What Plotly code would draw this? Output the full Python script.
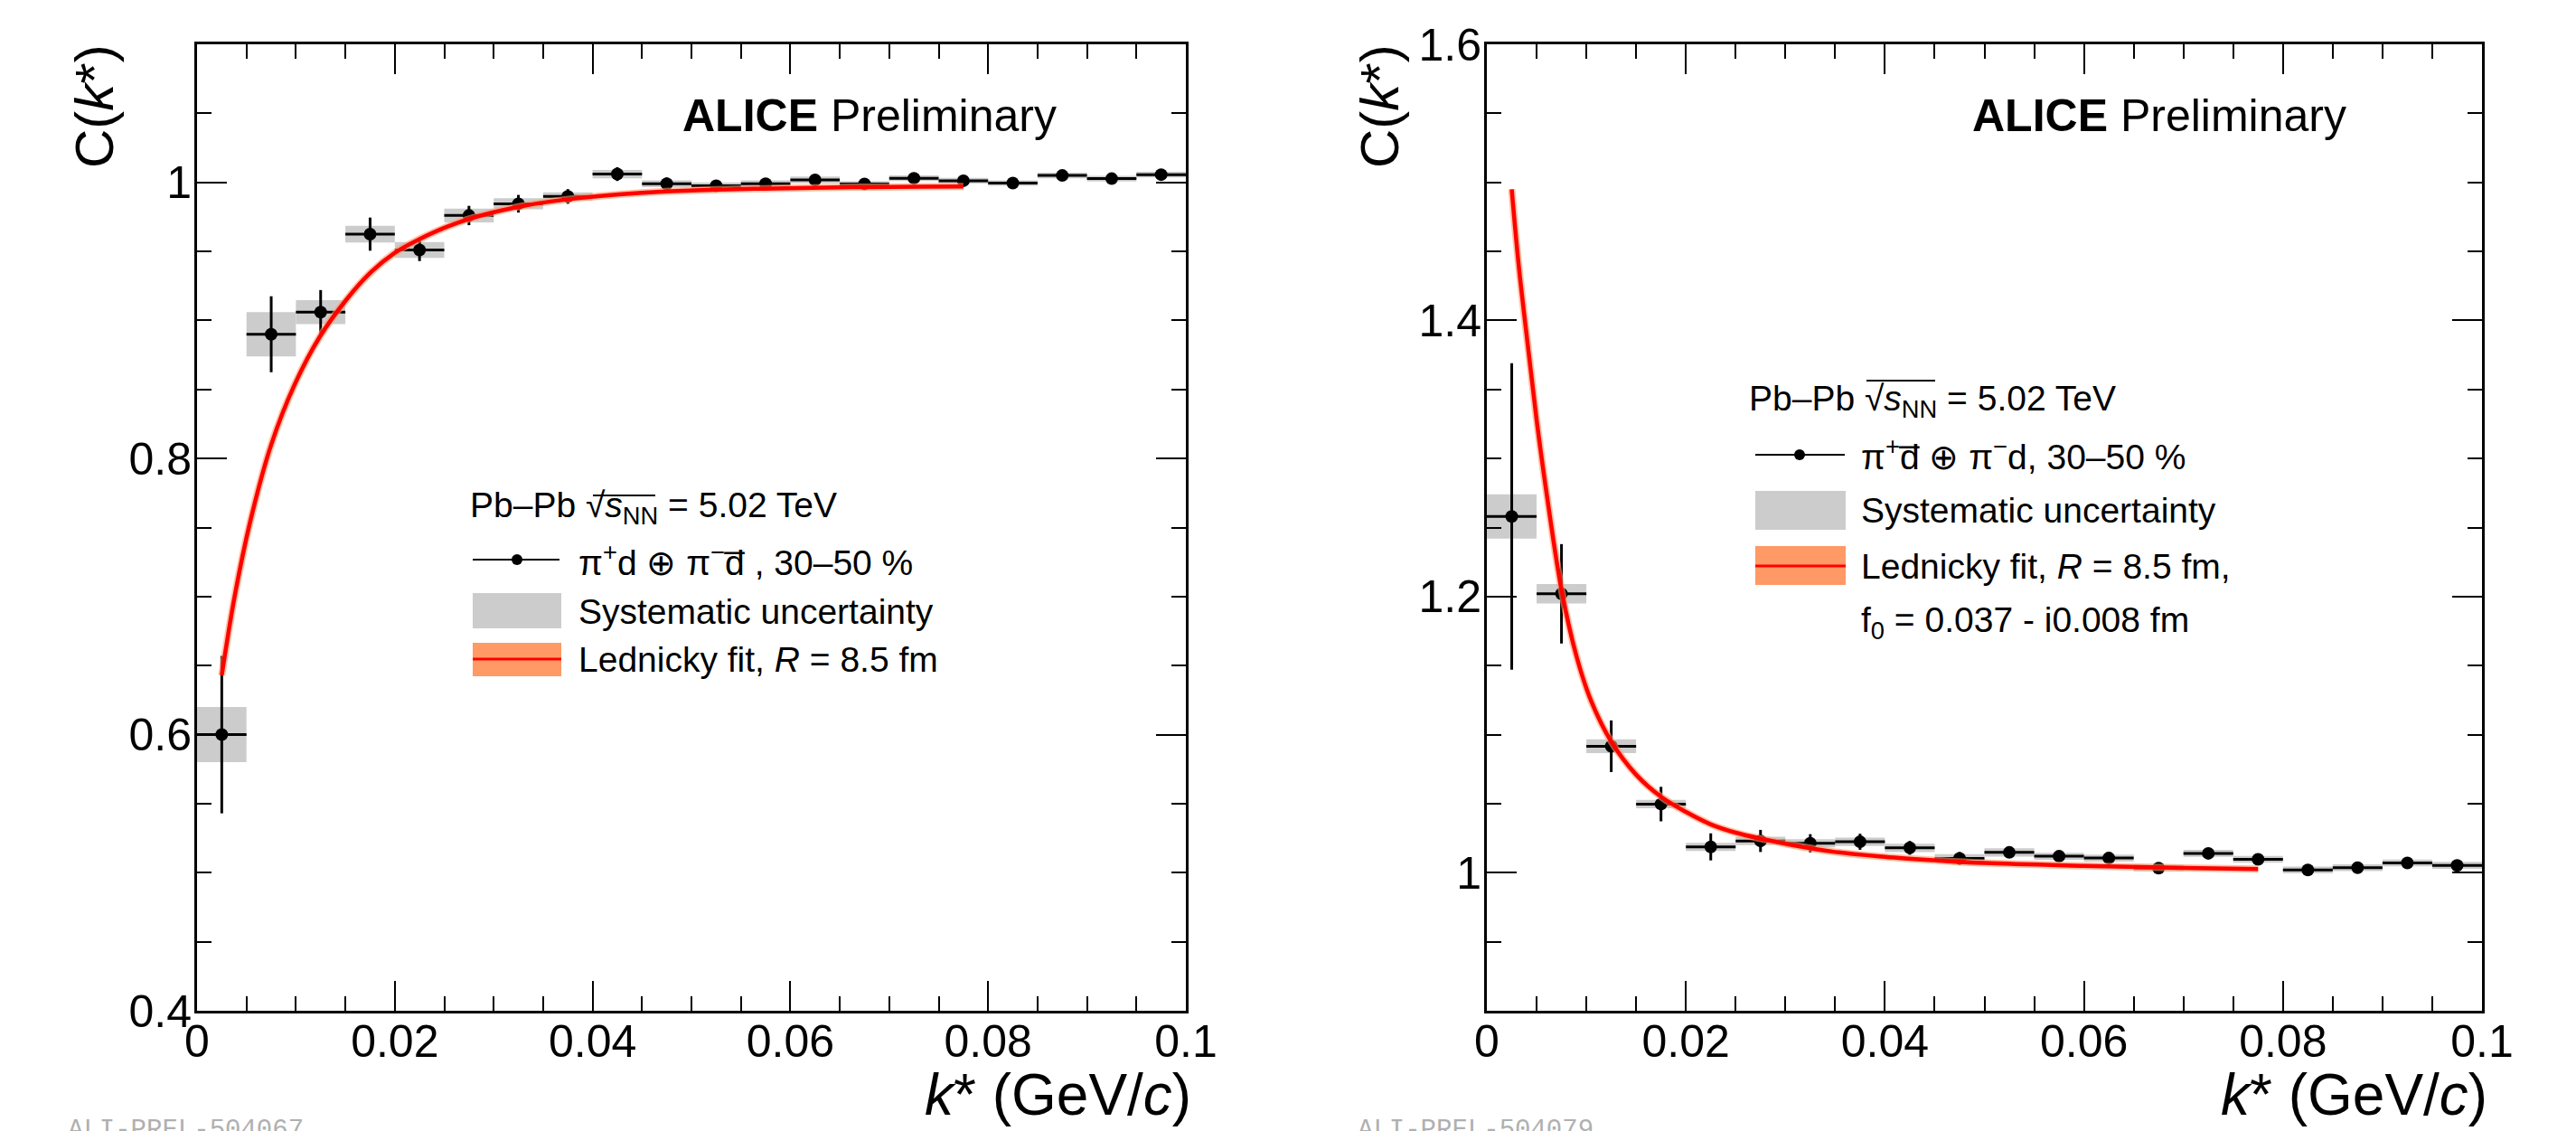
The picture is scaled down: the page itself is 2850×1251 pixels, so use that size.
import plotly.graph_objects as go

# page body has an 8px margin: the figure is sized to fill the rest of the window
OFF = 8
W, H = 2850 - OFF, 1251 - OFF

# ---------------- data ----------------
kstar = [0.0025, 0.0075, 0.0125, 0.0175, 0.0225, 0.0275, 0.0325, 0.0375, 0.0425, 0.0475,
         0.0525, 0.0575, 0.0625, 0.0675, 0.0725, 0.0775, 0.0825, 0.0875, 0.0925, 0.0975]
bin_half = [0.0025] * 20

# left: pi+d (+) pi-dbar
c_left = [0.600, 0.890, 0.906, 0.9625, 0.951, 0.976, 0.9845, 0.9898, 1.006, 0.999,
          0.9975, 0.999, 1.0018, 0.9989, 1.003, 1.0012, 0.9995, 1.005, 1.0027, 1.0056]
stat_left = [0.057, 0.0275, 0.016, 0.012, 0.008, 0.007, 0.0064, 0.0053, 0.005, 0.0045,
             0.004, 0.004, 0.0035, 0.0035, 0.003, 0.003, 0.003, 0.003, 0.003, 0.003]
sys_left = [0.020, 0.016, 0.0087, 0.006, 0.0057, 0.005, 0.004, 0.003, 0.003, 0.0025,
            0.0025, 0.0025, 0.0025, 0.002, 0.002, 0.002, 0.002, 0.002, 0.002, 0.002]

# right: pi+dbar (+) pi-d
c_right = [1.258, 1.202, 1.0916, 1.0497, 1.0187, 1.023, 1.0213, 1.0224, 1.018, 1.0104,
           1.0147, 1.0119, 1.0106, 1.0033, 1.014, 1.0097, 1.002, 1.0036, 1.0071, 1.0053]
stat_right = [0.111, 0.036, 0.0187, 0.0125, 0.0098, 0.008, 0.0066, 0.0058, 0.005, 0.0046,
              0.0035, 0.003, 0.003, 0.003, 0.003, 0.003, 0.003, 0.003, 0.003, 0.003]
sys_right = [0.016, 0.007, 0.005, 0.003, 0.003, 0.003, 0.003, 0.003, 0.003, 0.003,
             0.003, 0.0025, 0.0025, 0.0025, 0.0025, 0.0025, 0.0025, 0.0025, 0.0025, 0.0025]

# Lednicky fit curves
fit_k_left = [0.0025, 0.0038, 0.0054, 0.0075, 0.0099, 0.0124, 0.0151, 0.0176, 0.0200, 0.0224,
              0.0252, 0.0280, 0.0330, 0.0386, 0.0474, 0.0582, 0.0680, 0.0775]
fit_c_left = [0.643, 0.700, 0.755, 0.810, 0.854, 0.888, 0.915, 0.935, 0.949, 0.9586,
              0.9676, 0.9746, 0.983, 0.9886, 0.9934, 0.9956, 0.9966, 0.997]
fit_k_right = [0.0025, 0.0032, 0.0041, 0.0050, 0.0060, 0.0075, 0.0090, 0.0105, 0.0125, 0.0150,
               0.0175, 0.0200, 0.0225, 0.0250, 0.0300, 0.0350, 0.0400, 0.0450, 0.0500, 0.0600,
               0.0700, 0.0775]
fit_c_right = [1.495, 1.440, 1.383, 1.328, 1.275, 1.205, 1.157, 1.124, 1.095, 1.071,
               1.055, 1.044, 1.035, 1.029, 1.021, 1.015, 1.0115, 1.009, 1.007, 1.005,
               1.0035, 1.0027]

x_ticks = [0, 0.02, 0.04, 0.06, 0.08, 0.1]
y_ticks_left = [0.4, 0.6, 0.8, 1.0]
y_ticks_right = [1.0, 1.2, 1.4, 1.6]

# ---------------- helpers (window pixels -> paper) ----------------
def px(x):
    return (x - OFF) / W

def py(y):
    return 1 - (y - OFF) / H

FONT = "Liberation Sans, Arial, Helvetica, sans-serif"
GRAY = "#cccccc"
ORANGE = "#ff9966"
RED = "#ff0000"

fig = go.Figure()

def add_panel(xa, ya, c, stat, sys, fk, fc):
    fig.add_trace(go.Bar(
        x=kstar, y=[2 * s for s in sys], base=[v - s for v, s in zip(c, sys)],
        width=[2 * b for b in bin_half], marker=dict(color=GRAY, line=dict(width=0)),
        xaxis=xa, yaxis=ya, showlegend=False, hoverinfo="skip"))
    fig.add_trace(go.Scatter(
        x=kstar, y=c, mode="markers",
        marker=dict(color="black", size=14, symbol="circle"),
        error_y=dict(type="data", array=stat, visible=True, color="black", thickness=3, width=0),
        error_x=dict(type="data", array=bin_half, visible=True, color="black", thickness=3, width=0),
        xaxis=xa, yaxis=ya, showlegend=False))
    fig.add_trace(go.Scatter(
        x=fk, y=fc, mode="lines", line=dict(color=ORANGE, width=8, shape="spline"),
        xaxis=xa, yaxis=ya, showlegend=False, hoverinfo="skip", opacity=0.6))
    fig.add_trace(go.Scatter(
        x=fk, y=fc, mode="lines", line=dict(color=RED, width=4.5, shape="spline"),
        xaxis=xa, yaxis=ya, showlegend=False))

add_panel("x", "y", c_left, stat_left, sys_left, fit_k_left, fit_c_left)
add_panel("x2", "y2", c_right, stat_right, sys_right, fit_k_right, fit_c_right)

y_dom = [py(1118), py(49)]

def xaxis(domain, anchor):
    return dict(domain=domain, anchor=anchor, range=[0, 0.1], tickvals=x_ticks,
                ticktext=["0", "0.02", "0.04", "0.06", "0.08", "0.1"],
                showline=True, linewidth=3, linecolor="black", mirror="ticks",
                ticks="inside", ticklen=33, tickwidth=2, tickcolor="black",
                minor=dict(dtick=0.005, tick0=0, ticks="inside", ticklen=16, tickwidth=2,
                           tickcolor="black", showgrid=False),
                showgrid=False, zeroline=False, automargin=False,
                tickfont=dict(family=FONT, size=50, color="black"), ticklabelstandoff=-12)

def yaxis(anchor, rng, tv):
    return dict(domain=y_dom, anchor=anchor, range=rng, tickvals=tv,
                ticktext=[("%g" % v) for v in tv],
                showline=True, linewidth=3, linecolor="black", mirror="ticks",
                ticks="inside", ticklen=33, tickwidth=2, tickcolor="black",
                minor=dict(dtick=0.05, tick0=0, ticks="inside", ticklen=16, tickwidth=2,
                           tickcolor="black", showgrid=False),
                showgrid=False, zeroline=False, automargin=False,
                tickfont=dict(family=FONT, size=50, color="black"), ticklabelstandoff=-7)

fig.update_layout(
    width=W, height=H, margin=dict(l=0, r=0, t=0, b=0, pad=0, autoexpand=False),
    paper_bgcolor="white", plot_bgcolor="white",
    barmode="overlay", showlegend=False,
    xaxis=xaxis([px(218), px(1312)], "y"),
    yaxis=yaxis("x", [0.4, 1.1], y_ticks_left),
    xaxis2=xaxis([px(1645), px(2746)], "y2"),
    yaxis2=yaxis("x2", [0.9, 1.6], y_ticks_right),
)

ann = []
shapes = []

def text(x, y, s, size, xanchor="left", yanchor="middle", angle=0, family=FONT, color="black"):
    ann.append(dict(x=px(x), y=py(y), xref="paper", yref="paper", text=s, showarrow=False,
                    xanchor=xanchor, yanchor=yanchor, textangle=angle,
                    font=dict(family=family, size=size, color=color)))

def rect(x0, y0, x1, y1, color):
    shapes.append(dict(type="rect", xref="paper", yref="paper", x0=px(x0), x1=px(x1),
                       y0=py(y1), y1=py(y0), fillcolor=color, line=dict(width=0), layer="above"))

def hline(x0, x1, y, color, width):
    shapes.append(dict(type="line", xref="paper", yref="paper", x0=px(x0), x1=px(x1),
                       y0=py(y), y1=py(y), line=dict(color=color, width=width), layer="above"))

def dot(x, y, r):
    shapes.append(dict(type="circle", xref="paper", yref="paper", x0=px(x - r), x1=px(x + r),
                       y0=py(y + r), y1=py(y - r), fillcolor="black",
                       line=dict(color="black", width=0), layer="above"))

# axis titles
for xl, xr in [(104, 1320), (1526, 2754)]:
    text(xl, 118, "C(<i>k</i>*)", 60, xanchor="center", angle=-90)
    text(xr, 1211, "<i>k</i>* (GeV/<i>c</i>)", 64, xanchor="right")

# ALICE Preliminary
text(753, 128, "<b>ALICE</b> Preliminary", 50)
text(2180, 128, "<b>ALICE</b> Preliminary", 50)

# watermark (cut by the bottom edge, as in the reference)
text(73, 1250, "ALI-PREL-504067", 29, family="Liberation Mono, Courier New, monospace", color="#b0b0b0")
text(1500, 1250, "ALI-PREL-504079", 29, family="Liberation Mono, Courier New, monospace", color="#b0b0b0")

LF = 39
header = "Pb\u2013Pb \u221a<i>s</i><sub>NN</sub> = 5.02 TeV"
# left legend
text(518, 561, header, LF)
hline(656, 725, 548, "black", 2)
hline(523, 619, 619, "black", 2)
dot(572, 619, 6)
text(638, 619, "\u03c0<sup>+</sup>d \u2295 \u03c0<sup>\u2212</sup>d\u0305 , 30\u201350 %", LF)
rect(523, 656, 621, 695, GRAY)
text(638, 677, "Systematic uncertainty", LF)
rect(523, 711, 621, 748, ORANGE)
hline(523, 621, 729, RED, 3)
text(638, 729, "Lednicky fit, <i>R</i> = 8.5 fm", LF)

# right legend
text(1933, 443, header, LF)
hline(2065, 2141, 421, "black", 2)
hline(1942, 2041, 503, "black", 2)
dot(1991, 503, 6)
text(2057, 503, "\u03c0<sup>+</sup>d\u0305 \u2295 \u03c0<sup>\u2212</sup>d, 30\u201350 %", LF)
rect(1942, 543, 2042, 586, GRAY)
text(2057, 564, "Systematic uncertainty", LF)
rect(1942, 604, 2042, 647, ORANGE)
hline(1942, 2042, 626, RED, 3)
text(2057, 626, "Lednicky fit, <i>R</i> = 8.5 fm,", LF)
text(2057, 688, "f<sub>0</sub> = 0.037 - i0.008 fm", LF)

fig.update_layout(annotations=ann, shapes=shapes)
fig.write_html("out.html")
